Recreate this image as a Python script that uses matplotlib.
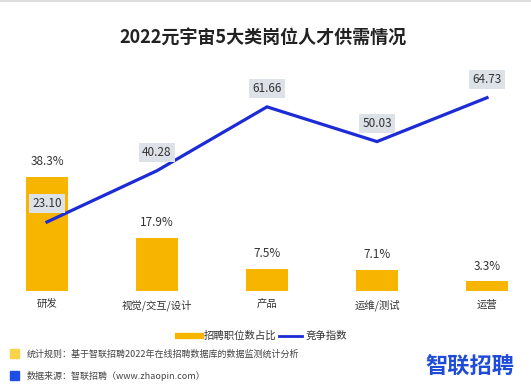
import matplotlib.pyplot as plt
from matplotlib.patches import Rectangle
from matplotlib.lines import Line2D

plt.rcParams["font.family"] = ["Noto Sans CJK SC", "DejaVu Sans"]

categories = ["研发", "视觉/交互/设计", "产品", "运维/测试", "运营"]
share = [38.3, 17.9, 7.5, 7.1, 3.3]
competition = [23.10, 40.28, 61.66, 50.03, 64.73]

BAR_COLOR = "#F8B500"
LINE_COLOR = "#1C2BD6"
TEXT_COLOR = "#333333"

fig = plt.figure(figsize=(5.31, 3.89), dpi=100)
ax = fig.add_axes([0, 0.252, 1, 0.568])
x = list(range(len(categories)))

ax.bar(x, share, width=0.39, color=BAR_COLOR, zorder=2)
ax.plot(x, competition, color=LINE_COLOR, lw=2.3, zorder=3,
        solid_joinstyle="miter")

for i, v in enumerate(share):
    ax.annotate(f"{v}%", xy=(i, v), xytext=(0, 6), textcoords="offset points",
                ha="center", va="bottom", fontsize=8.5, color=TEXT_COLOR)

for i, v in enumerate(competition):
    ax.annotate(f"{v:.2f}", xy=(i, v), xytext=(0, 13), textcoords="offset points",
                ha="center", va="center", fontsize=8.5, color=TEXT_COLOR,
                zorder=4,
                bbox=dict(boxstyle="square,pad=0.25", fc="#DDE1E8", ec="none"))

ax.set_xlim(-0.427, 4.4)
ax.set_ylim(0, 74)
ax.set_xticks(x)
ax.set_xticklabels(categories, fontsize=7.5, color=TEXT_COLOR)
ax.tick_params(axis="x", length=0, pad=6)
ax.set_yticks([])
for s in ax.spines.values():
    s.set_visible(False)

fig.text(0.496, 0.902, "2022元宇宙5大类岗位人才供需情况", ha="center", va="center",
         fontsize=13, fontweight="bold", color="#222222")

# legend
handles = [Line2D([], [], color=BAR_COLOR, lw=4.5),
           Line2D([], [], color=LINE_COLOR, lw=2)]
fig.legend(handles, ["招聘职位数占比", "竞争指数"], loc="center",
           bbox_to_anchor=(0.494, 0.136), ncol=2, frameon=False, fontsize=7.5,
           handlelength=2.2, handletextpad=0.3, columnspacing=0.3,
           labelcolor=TEXT_COLOR)

# footer
fig.patches.append(Rectangle((10 / 531, 1 - 358 / 389), 9 / 531, 9 / 389,
                             transform=fig.transFigure, color="#F9D44A"))
fig.patches.append(Rectangle((10 / 531, 1 - 380 / 389), 9 / 531, 9 / 389,
                             transform=fig.transFigure, color="#1F4BE6"))
fig.text(27 / 531, 1 - 354 / 389, "统计规则：基于智联招聘2022年在线招聘数据库的数据监测统计分析",
         ha="left", va="center", fontsize=6.5, color="#444444")
fig.text(27 / 531, 1 - 376 / 389, "数据来源：智联招聘（www.zhaopin.com）",
         ha="left", va="center", fontsize=6.5, color="#444444")
fig.text(470 / 531, 1 - 367 / 389, "智联招聘", ha="center", va="center",
         fontsize=16, fontweight="bold", color="#1E4BD8")

fig.add_artist(Line2D([0, 1], [0.997, 0.997], color="#DDDDDD", lw=1.5,
                      transform=fig.transFigure))

fig.savefig("out.png", dpi=100)
